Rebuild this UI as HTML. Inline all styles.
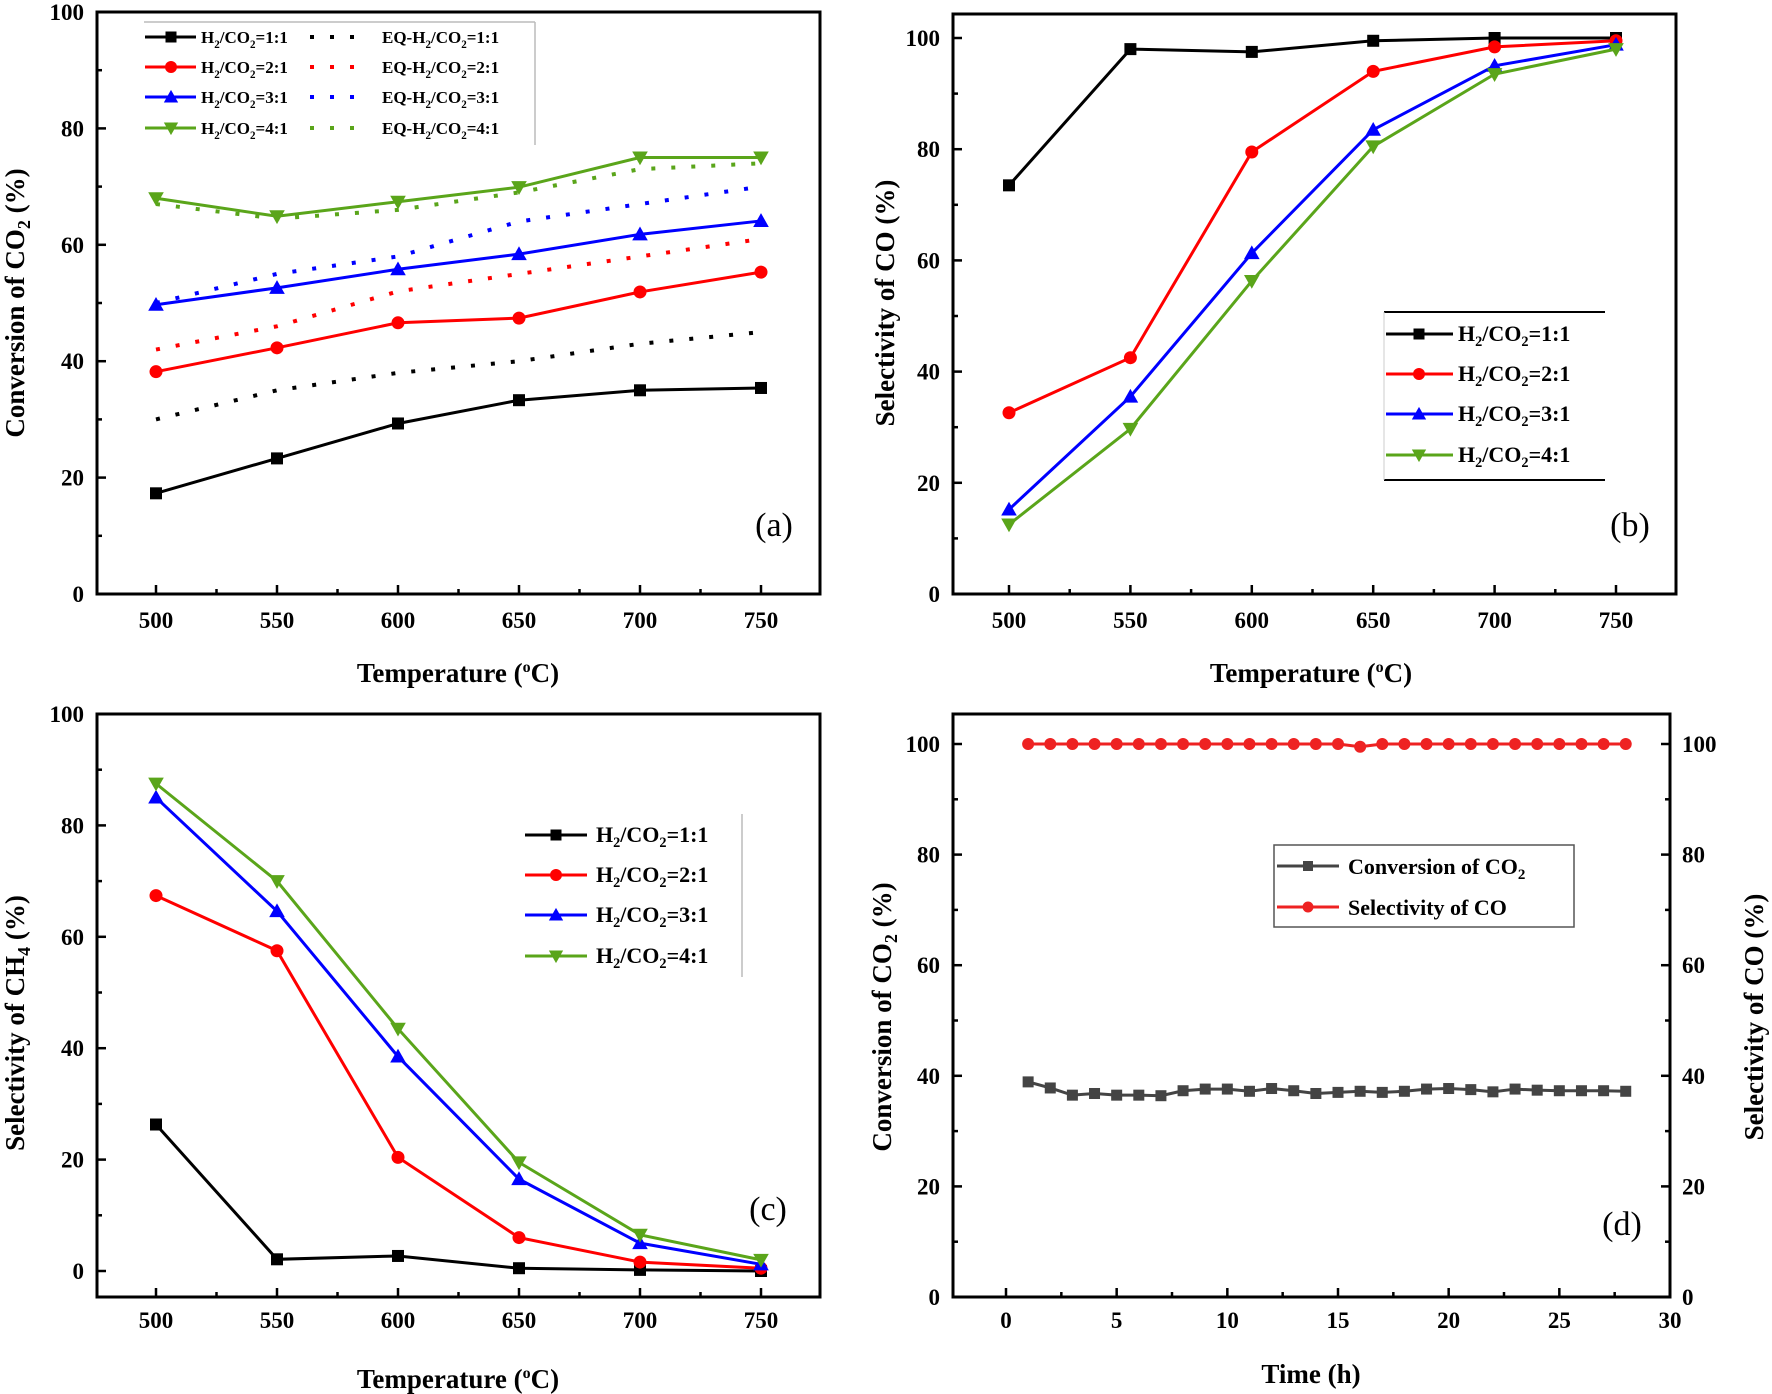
<!DOCTYPE html>
<html><head><meta charset="utf-8"><style>
html,body{margin:0;padding:0;background:#fff;}
svg{display:block;font-family:"Liberation Serif",serif;font-weight:bold;}
</style></head><body>
<svg id="fig" width="1772" height="1394" viewBox="0 0 1772 1394" xmlns="http://www.w3.org/2000/svg"></svg>
<script>
// ---- data ----
const temps = [500, 550, 600, 650, 700, 750];
const ratioLabels = ['1:1', '2:1', '3:1', '4:1'];
const colors = ['#000000', '#ff0000', '#0000ff', '#5aa51a'];
const convA_11 = [17.3, 23.3, 29.3, 33.3, 35.0, 35.4];
const convA_21 = [38.2, 42.3, 46.6, 47.4, 51.9, 55.3];
const convA_31 = [49.7, 52.6, 55.8, 58.4, 61.8, 64.1];
const convA_41 = [68.0, 64.9, 67.4, 69.9, 75.0, 75.0];
const eqA_11 = [30, 35, 38, 40, 43, 45];
const eqA_21 = [42, 46, 52, 55, 58, 61];
const eqA_31 = [50, 55, 58, 64, 67, 70];
const eqA_41 = [67, 64.5, 66, 69, 73, 74];
const selCO_11 = [73.5, 98, 97.5, 99.5, 100, 100];
const selCO_21 = [32.6, 42.5, 79.5, 94, 98.4, 99.5];
const selCO_31 = [15.2, 35.5, 61.3, 83.5, 95, 98.8];
const selCO_41 = [12.5, 29.7, 56.3, 80.5, 93.5, 98];
const selCH4_11 = [26.3, 2.1, 2.7, 0.5, 0.2, 0];
const selCH4_21 = [67.4, 57.5, 20.4, 6, 1.6, 0.5];
const selCH4_31 = [85, 64.6, 38.5, 16.5, 5, 1.2];
const selCH4_41 = [87.5, 70, 43.5, 19.5, 6.5, 2];
const hours = [1,2,3,4,5,6,7,8,9,10,11,12,13,14,15,16,17,18,19,20,21,22,23,24,25,26,27,28];
const convTime = [38.9,37.8,36.5,36.8,36.5,36.5,36.4,37.3,37.6,37.6,37.2,37.7,37.3,36.8,37,37.2,37,37.2,37.6,37.7,37.5,37.1,37.6,37.4,37.3,37.3,37.3,37.2];
const selTime = [100,100,100,100,100,100,100,100,100,100,100,100,100,100,100,99.5,100,100,100,100,100,100,100,100,100,100,100,100];
const tempTicks = [500, 550, 600, 650, 700, 750];
const pctTicks = [0, 20, 40, 60, 80, 100];
const timeTicks = [0, 5, 10, 15, 20, 25, 30];

const NS = 'http://www.w3.org/2000/svg';
const svg = document.getElementById('fig');
function el(tag, attrs, parent, txt) {
  const e = document.createElementNS(NS, tag);
  for (const k in attrs) e.setAttribute(k, attrs[k]);
  if (txt !== undefined) e.textContent = txt;
  (parent || svg).appendChild(e);
  return e;
}
function mkScale(d0, d1, r0, r1) { return v => r0 + (v - d0) / (d1 - d0) * (r1 - r0); }

function marker(g, type, x, y, c, s) {
  let m;
  if (type === 'square') m = el('rect', {x: x - s/2, y: y - s/2, width: s, height: s, fill: c}, g);
  else if (type === 'circle') m = el('circle', {cx: x, cy: y, r: s/2 + 0.5, fill: c}, g);
  else if (type === 'up') m = el('polygon', {points: `${x},${y - s*0.65} ${x - s*0.65},${y + s*0.5} ${x + s*0.65},${y + s*0.5}`, fill: c}, g);
  else if (type === 'down') m = el('polygon', {points: `${x},${y + s*0.65} ${x - s*0.65},${y - s*0.5} ${x + s*0.65},${y - s*0.5}`, fill: c}, g);
  else if (type === 'diamond') m = el('polygon', {points: `${x},${y - s*0.7} ${x + s*0.6},${y} ${x},${y + s*0.7} ${x - s*0.6},${y}`, fill: c}, g);
  
  
}
const mtypes = ['square', 'circle', 'up', 'down'];

function axesBox(name, L, R, T, B) {
  const g = el('g', {});
  
  
  el('rect', {x: L, y: T, width: R - L, height: B - T, fill: 'none', stroke: '#000', 'stroke-width': 3}, g);
  return g;
}
function xTicks(g, sx, ticks, minorStep, B, labY, dmin, dmax) {
  ticks.forEach(t => {
    el('line', {x1: sx(t), x2: sx(t), y1: B, y2: B - 9, stroke: '#000', 'stroke-width': 2.5}, g);
    const tx = el('text', {x: sx(t), y: labY, 'font-size': 23, 'text-anchor': 'middle'}, g, t);
    
    
  });
  for (let v = ticks[0] + minorStep; v < ticks[ticks.length - 1]; v += minorStep * 2)
    el('line', {x1: sx(v), x2: sx(v), y1: B, y2: B - 5, stroke: '#000', 'stroke-width': 2.5}, g);
}
function yTicks(g, sy, ticks, L, labX, side) {
  const dir = side === 'right' ? -1 : 1;
  ticks.forEach((t, i) => {
    el('line', {x1: L, x2: L + 9 * dir, y1: sy(t), y2: sy(t), stroke: '#000', 'stroke-width': 2.5}, g);
    if (i < ticks.length - 1) {
      const m = (t + ticks[i + 1]) / 2;
      el('line', {x1: L, x2: L + 5 * dir, y1: sy(m), y2: sy(m), stroke: '#000', 'stroke-width': 2.5}, g);
    }
    const tx = el('text', {x: labX, y: sy(t) + 8, 'font-size': 23, 'text-anchor': side === 'right' ? 'start' : 'end'}, g, t);
    
    
  });
}
function title(g, x, y, rot, name, parts) {
  const t = el('text', {x: x, y: y, 'font-size': 27, 'text-anchor': 'middle', transform: rot ? `rotate(-90 ${x} ${y})` : ''}, g);
  
  
  parts.forEach(p => {
    const ts = el('tspan', p.sub ? {'font-size': 18, dy: 6} : (p.sup ? {'font-size': 16, dy: -10} : (p.back ? {dy: p.back} : {})), t, p.t);
  });
  return t;
}
function series(g, sx, sy, xs, ys, c, mt, ms, name) {
  const s = el('g', {}, g);
  
  
  el('polyline', {points: xs.map((x, i) => sx(x) + ',' + sy(ys[i])).join(' '), fill: 'none', stroke: c, 'stroke-width': 3}, s);
  xs.forEach((x, i) => marker(s, mt, sx(x), sy(ys[i]), c, ms));
}
function dotted(g, sx, sy, xs, ys, c, name) {
  const p = el('polyline', {points: xs.map((x, i) => sx(x) + ',' + sy(ys[i])).join(' '), fill: 'none', stroke: c, 'stroke-width': 4, 'stroke-dasharray': '4 16'}, g);
  
  
}
function ratioText(g, x, y, label, pre, fs) {
  const t = el('text', {x: x, y: y, 'font-size': fs}, g);
  
  
  el('tspan', {}, t, pre + 'H');
  el('tspan', {'font-size': fs * 0.65, dy: 5}, t, '2');
  el('tspan', {dy: -5}, t, '/CO');
  el('tspan', {'font-size': fs * 0.65, dy: 5}, t, '2');
  el('tspan', {dy: -5}, t, '=' + label);
}

// ---------- Panel (a) ----------
(function () {
  const L = 97, R = 820, T = 12, B = 594;
  const sx = mkScale(500, 750, 156, 761), sy = mkScale(0, 100, 594, 12);
  const g = axesBox('panel-a', L, R, T, B);
  xTicks(g, sx, tempTicks, 25, B, 628);
  yTicks(g, sy, pctTicks, L, 84, 'left');
  title(g, 458, 682, false, 'x-axis-title', [{t: 'Temperature ('}, {t: 'o', sup: true}, {t: 'C)', back: 10}]);
  title(g, 24, 303, true, 'y-axis-title', [{t: 'Conversion of CO'}, {t: '2', sub: true}, {t: ' (%)', back: -6}]);
  const eqs = [eqA_11, eqA_21, eqA_31, eqA_41], conv = [convA_11, convA_21, convA_31, convA_41];
  eqs.forEach((d, i) => dotted(g, sx, sy, temps, d, colors[i], 'eq-series-' + (i + 1)));
  conv.forEach((d, i) => series(g, sx, sy, temps, d, colors[i], mtypes[i], 12, 'series-ratio-' + (i + 1)));
  const lg = el('g', {}, g);
  
  
  el('line', {x1: 144, x2: 535, y1: 22, y2: 22, stroke: '#bbb', 'stroke-width': 1.5}, lg);
  el('line', {x1: 535, x2: 535, y1: 22, y2: 145, stroke: '#bbb', 'stroke-width': 1.5}, lg);
  [37, 67, 97, 128].forEach((y, i) => {
    el('line', {x1: 145, x2: 196, y1: y, y2: y, stroke: colors[i], 'stroke-width': 3}, lg);
    marker(lg, mtypes[i], 171, y, colors[i], 11);
    ratioText(lg, 201, y + 6, ratioLabels[i], '', 17);
    el('line', {x1: 310, x2: 368, y1: y, y2: y, stroke: colors[i], 'stroke-width': 4, 'stroke-dasharray': '4 16'}, lg);
    ratioText(lg, 382, y + 6, ratioLabels[i], 'EQ-', 17);
  });
  const lab = el('text', {x: 774, y: 536, 'font-size': 34, 'font-weight': 'normal', 'text-anchor': 'middle'}, g, '(a)');
  
  
})();

// ---------- Panel (b) ----------
(function () {
  const L = 953, R = 1676, T = 14, B = 594;
  const sx = mkScale(500, 750, 1009, 1616), sy = mkScale(0, 100, 594, 38);
  const g = axesBox('panel-b', L, R, T, B);
  xTicks(g, sx, tempTicks, 25, B, 628);
  yTicks(g, sy, pctTicks, L, 940, 'left');
  title(g, 1311, 682, false, 'x-axis-title', [{t: 'Temperature ('}, {t: 'o', sup: true}, {t: 'C)', back: 10}]);
  title(g, 894, 303, true, 'y-axis-title', [{t: 'Selectivity of CO (%)'}]);
  const d = [selCO_11, selCO_21, selCO_31, selCO_41];
  d.forEach((s, i) => series(g, sx, sy, temps, s, colors[i], mtypes[i], 12, 'series-ratio-' + (i + 1)));
  const lg = el('g', {}, g);
  
  
  el('line', {x1: 1384, x2: 1605, y1: 312, y2: 312, stroke: '#000', 'stroke-width': 2}, lg);
  el('line', {x1: 1384, x2: 1605, y1: 480, y2: 480, stroke: '#000', 'stroke-width': 2}, lg);
  el('line', {x1: 1384, x2: 1384, y1: 312, y2: 480, stroke: '#ccc', 'stroke-width': 1}, lg);
  [334, 374, 414, 455].forEach((y, i) => {
    el('line', {x1: 1386, x2: 1453, y1: y, y2: y, stroke: colors[i], 'stroke-width': 3}, lg);
    marker(lg, mtypes[i], 1419, y, colors[i], 11);
    ratioText(lg, 1458, y + 7, ratioLabels[i], '', 22);
  });
  const lab = el('text', {x: 1630, y: 536, 'font-size': 34, 'font-weight': 'normal', 'text-anchor': 'middle'}, g, '(b)');
  
  
})();

// ---------- Panel (c) ----------
(function () {
  const L = 97, R = 820, T = 714, B = 1297;
  const sx = mkScale(500, 750, 156, 761), sy = mkScale(0, 100, 1271, 714);
  const g = axesBox('panel-c', L, R, T, B);
  xTicks(g, sx, tempTicks, 25, B, 1328);
  yTicks(g, sy, pctTicks, L, 84, 'left');
  title(g, 458, 1388, false, 'x-axis-title', [{t: 'Temperature ('}, {t: 'o', sup: true}, {t: 'C)', back: 10}]);
  title(g, 24, 1023, true, 'y-axis-title', [{t: 'Selectivity of CH'}, {t: '4', sub: true}, {t: ' (%)', back: -6}]);
  const d = [selCH4_11, selCH4_21, selCH4_31, selCH4_41];
  d.forEach((s, i) => series(g, sx, sy, temps, s, colors[i], mtypes[i], 12, 'series-ratio-' + (i + 1)));
  const lg = el('g', {}, g);
  
  
  el('line', {x1: 742, x2: 742, y1: 814, y2: 977, stroke: '#bbb', 'stroke-width': 1.5}, lg);
  [835, 875, 915, 956].forEach((y, i) => {
    el('line', {x1: 525, x2: 587, y1: y, y2: y, stroke: colors[i], 'stroke-width': 3}, lg);
    marker(lg, mtypes[i], 556, y, colors[i], 11);
    ratioText(lg, 596, y + 7, ratioLabels[i], '', 22);
  });
  const lab = el('text', {x: 768, y: 1220, 'font-size': 34, 'font-weight': 'normal', 'text-anchor': 'middle'}, g, '(c)');
  
  
})();

// ---------- Panel (d) ----------
(function () {
  const L = 953, R = 1670, T = 714, B = 1297;
  const sx = mkScale(0, 30, 1006, 1670), sy = mkScale(0, 100, 1297, 744);
  const g = axesBox('panel-d', L, R, T, B);
  xTicks(g, sx, timeTicks, 2.5, B, 1328);
  yTicks(g, sy, pctTicks, L, 940, 'left');
  yTicks(g, sy, pctTicks, R, 1682, 'right');
  title(g, 1311, 1383, false, 'x-axis-title', [{t: 'Time (h)'}]);
  title(g, 891, 1017, true, 'y-axis-title-left', [{t: 'Conversion of CO'}, {t: '2', sub: true}, {t: ' (%)', back: -6}]);
  title(g, 1763, 1017, true, 'y-axis-title-right', [{t: 'Selectivity of CO (%)'}]);
  series(g, sx, sy, hours, convTime, '#444444', 'square', 11, 'series-conversion');
  series(g, sx, sy, hours, selTime, '#ee2222', 'circle', 11, 'series-selectivity');
  const lg = el('g', {}, g);
  
  
  el('rect', {x: 1274, y: 845, width: 300, height: 82, fill: '#fff', stroke: '#555', 'stroke-width': 1.5}, lg);
  el('line', {x1: 1277, x2: 1339, y1: 866, y2: 866, stroke: '#444', 'stroke-width': 3}, lg);
  marker(lg, 'square', 1308, 866, '#444', 10);
  el('line', {x1: 1277, x2: 1339, y1: 907, y2: 907, stroke: '#ee2222', 'stroke-width': 3}, lg);
  marker(lg, 'circle', 1308, 907, '#ee2222', 10);
  const t1 = el('text', {x: 1348, y: 874, 'font-size': 22}, lg);
  
  
  el('tspan', {}, t1, 'Conversion of CO');
  el('tspan', {'font-size': 15, dy: 5}, t1, '2');
  const t2 = el('text', {x: 1348, y: 915, 'font-size': 22}, lg, 'Selectivity of CO');
  
  
  const lab = el('text', {x: 1622, y: 1235, 'font-size': 34, 'font-weight': 'normal', 'text-anchor': 'middle'}, g, '(d)');
  
  
})();
</script>
</body></html>
